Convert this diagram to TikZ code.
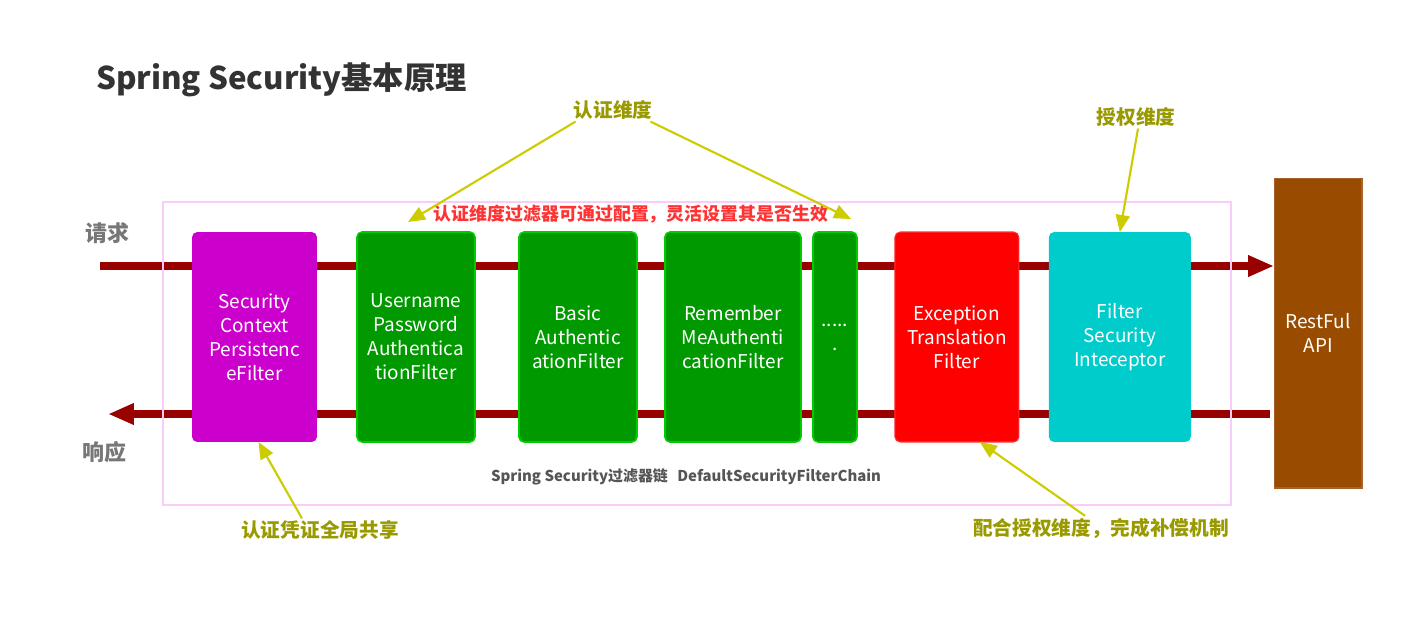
\documentclass[tikz,border=0pt]{standalone}
\usepackage{fontspec}
\setmainfont{Noto Sans CJK SC}
\usepackage{tikz}
\usetikzlibrary{arrows.meta, positioning, backgrounds, calc}
\definecolor{ink}{HTML}{333333}
\definecolor{mute}{HTML}{777777}
\definecolor{chaintext}{HTML}{555555}
\definecolor{olive}{HTML}{999900}
\definecolor{pointer}{HTML}{CCCC00}
\definecolor{hint}{HTML}{FF3333}
\definecolor{flowred}{HTML}{990000}
\definecolor{chainframe}{HTML}{F9CCF9}
\definecolor{ctxfill}{HTML}{CC00CC}
\definecolor{authfill}{HTML}{009900}
\definecolor{authline}{HTML}{00CC00}
\definecolor{excfill}{HTML}{FF0000}
\definecolor{excline}{HTML}{FF3333}
\definecolor{fsifill}{HTML}{00CCCC}
\definecolor{apifill}{HTML}{994C00}
\definecolor{apiline}{HTML}{A8622A}
\tikzset{
  filter/.style ={rounded corners=3pt, minimum height=4.2cm, inner sep=0pt, outer sep=0pt,
                  align=center, text=white, font=\fontsize{10.8}{13.7}\selectfont},
  filterc/.style={filter, fill=ctxfill},
  filtera/.style={filter, fill=authfill, draw=authline, line width=1pt},
  filtere/.style={filter, fill=excfill, draw=excline, line width=0.6pt},
  filterf/.style={filter, fill=fsifill},
  api/.style    ={fill=apifill, draw=apiline, line width=0.6pt, minimum width=1.76cm,
                  minimum height=6.2cm, inner sep=0pt, outer sep=0pt, align=center, text=white,
                  font=\fontsize{10.8}{13.7}\selectfont},
  flow/.style   ={-{Triangle[length=0.52cm,width=0.4cm]}, line width=4.5pt, draw=flowred},
  point/.style  ={-{Triangle[length=0.34cm,width=0.28cm]}, line width=1.2pt, draw=pointer},
  note/.style   ={font=\fontsize{11.2}{13}\selectfont\bfseries, text=olive, inner sep=1pt},
  side/.style   ={font=\fontsize{12.5}{14}\selectfont\bfseries, text=mute, inner sep=1pt}
}
\begin{document}
\begin{tikzpicture}[x=0.02cm, y=-0.02cm]
  \useasboundingbox (0,0) rectangle (1422,619);

  \node[font=\fontsize{17.8}{20}\selectfont\bfseries, text=ink, anchor=west] (title) at (90,80) {Spring Security基本原理};

  \node[draw=chainframe, line width=1.2pt, minimum width=21.36cm, minimum height=6.06cm] (chain) at (697,353.5) {};

  \node[filterc, minimum width=2.5cm]                  (scpf) at (254.5,337) {Security\\Context\\Persistenc\\eFilter};
  \node[filtera, minimum width=2.36cm, right=0.8cm of scpf]  (upaf) {Username\\Password\\Authentica\\tionFilter};
  \node[filtera, minimum width=2.36cm, right=0.88cm of upaf] (baf)  {Basic\\Authentic\\ationFilter};
  \node[filtera, minimum width=2.72cm, right=0.56cm of baf]  (rmaf) {Remember\\MeAuthenti\\cationFilter};
  \node[filtera, minimum width=0.88cm, right=0.24cm of rmaf] (more) {.....\\.};
  \node[filtere, minimum width=2.48cm, right=0.76cm of more] (etf)  {Exception\\Translation\\Filter};
  \node[filterf, minimum width=2.84cm, right=0.6cm of etf]   (fsi)  {Filter\\Security\\Inteceptor};
  \node[api] (restapi) at (1318,333) {RestFul\\API};

  \coordinate (req)  at (100,266);
  \coordinate (resp) at (108,414);
  \begin{scope}[on background layer]
    \fill[white] (0,0) rectangle (1422,619);
    \draw[flow] (req) -- (req -| restapi.west);
    \draw[flow] ($(resp -| restapi.west)+(-4,0)$) -- (resp);
  \end{scope}

  \node[side] (reqlabel)  at (107,233) {请求};
  \node[side] (resplabel) at (104,452) {响应};

  \node[font=\fontsize{10.2}{12}\selectfont\bfseries, text=hint] (hinttext) at (631,214) {认证维度过滤器可通过配置，灵活设置其是否生效};
  \node[font=\fontsize{8.5}{10}\selectfont\bfseries, text=chaintext] (chainlabel) at (686,477) {Spring Security过滤器链\hspace{0.4em} DefaultSecurityFilterChain};

  \node[note] (authn)  at (613,110) {认证维度};
  \node[note] (authz)  at (1136,117) {授权维度};
  \node[note] (share)  at (320,530) {认证凭证全局共享};
  \node[note] (comp)   at (1101,528) {配合授权维度，完成补偿机制};

  \coordinate (authnl) at (408,222);
  \coordinate (authnr) at (851,219);
  \draw[point] ($(authn.south west)+(4,0)$) -- (authnl);
  \draw[point] ($(authn.south east)+(-4,0)$) -- (authnr);
  \draw[point] ($(authz.south)+(2,0)$) -- (fsi.north);
  \draw[point] ($(share.north)+(-18,0)$) -- ($(scpf.south)+(4,0)$);
  \draw[point] ($(comp.north)+(-16,0)$) -- ($(etf.south)+(23,0)$);
\end{tikzpicture}
\end{document}
